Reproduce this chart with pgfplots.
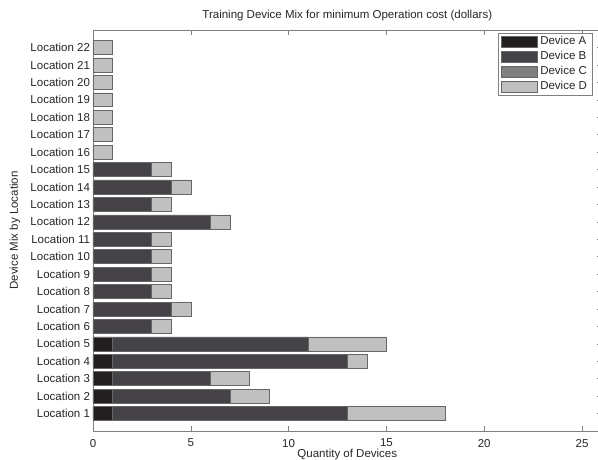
\documentclass[border=0pt]{standalone}
\usepackage{fontspec}
\setmainfont{Liberation Sans}
\usepackage{pgfplots}
\usepackage{pgfplotstable}
\pgfplotsset{compat=1.18}
\definecolor{devA}{HTML}{231F20}
\definecolor{devB}{HTML}{454347}
\definecolor{devC}{HTML}{7F7F7F}
\definecolor{devD}{HTML}{C0C0C0}
\definecolor{axgray}{HTML}{808080}
\pgfplotstableread{
y A B C D
1 1 12 0 5
2 1 6 0 2
3 1 5 0 2
4 1 12 0 1
5 1 10 0 4
6 0 3 0 1
7 0 4 0 1
8 0 3 0 1
9 0 3 0 1
10 0 3 0 1
11 0 3 0 1
12 0 6 0 1
13 0 3 0 1
14 0 4 0 1
15 0 3 0 1
16 0 0 0 1
17 0 0 0 1
18 0 0 0 1
19 0 0 0 1
20 0 0 0 1
21 0 0 0 1
22 0 0 0 1
}\data
\begin{document}
\fontsize{11.5}{13.5}\selectfont
\begin{tikzpicture}
\path[use as bounding box] (-93pt,-29pt) rectangle (505pt,431pt);
\begin{axis}[
  at={(0,0)}, anchor=south west,
  scale only axis, width=508.6pt, height=400.9pt,
  xbar stacked, bar width=0.8,
  xmin=0, xmax=26, ymin=0, ymax=23,
  xtick={0,5,...,25},
  ytick={1,...,22},
  yticklabels={Location 1,Location 2,Location 3,Location 4,Location 5,Location 6,Location 7,Location 8,Location 9,Location 10,Location 11,Location 12,Location 13,Location 14,Location 15,Location 16,Location 17,Location 18,Location 19,Location 20,Location 21,Location 22},
  tick align=inside, major tick length=5pt,
  axis line style={draw=axgray},
  tick style={draw=axgray, line width=0.5pt},
  /pgf/number format/assume math mode=true,
  tick label style={font=\fontsize{11.5}{13.5}\selectfont, text=black!85},
  yticklabel style={xshift=1pt},
  xticklabel style={yshift=-4pt},
  title={Training Device Mix for minimum Operation cost (dollars)},
  title style={at={(axis description cs:0.5,1)}, anchor=center, yshift=9pt, font=\fontsize{11.5}{13.5}\selectfont, text=black!85},
  xlabel={Quantity of Devices},
  xlabel style={at={(axis description cs:0.5,0)}, anchor=center, yshift=-23.5pt, font=\fontsize{11.5}{13.5}\selectfont, text=black!85},
  ylabel={Device Mix by Location},
  ylabel style={at={(axis description cs:-0.1534,0.5)}, anchor=center, font=\fontsize{11.5}{13.5}\selectfont, text=black!85},
  legend style={at={(axis description cs:0.7963,0.9925)}, anchor=north west, draw=axgray, font=\fontsize{11.5}{13.5}\selectfont, text=black!85, inner xsep=3pt, inner ysep=1pt, row sep=0pt, cells={anchor=west}, nodes={text height=8.5pt, text depth=2.5pt, inner ysep=2pt, inner xsep=2.5pt}},
  legend image code/.code={\draw[#1, draw=black!60] (3pt,-5.5pt) rectangle (39pt,5.5pt);},
]
\addplot[fill=devA, draw=black!60, line width=0.6pt] table[x=A,y=y]{\data};
\addplot[fill=devB, draw=black!60, line width=0.6pt] table[x=B,y=y]{\data};
\addplot[fill=devC, draw=black!60, line width=0.6pt] table[x=C,y=y]{\data};
\addplot[fill=devD, draw=black!60, line width=0.6pt] table[x=D,y=y]{\data};
\legend{Device A,Device B,Device C,Device D}
\end{axis}
\end{tikzpicture}
\end{document}
